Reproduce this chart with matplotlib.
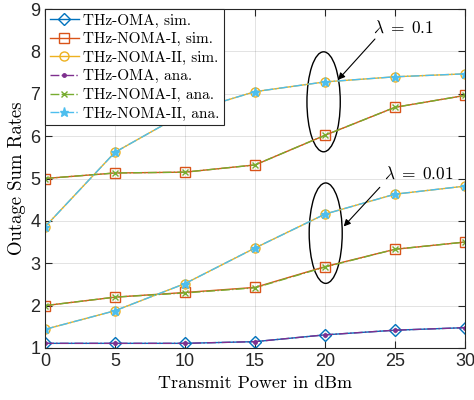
import numpy as np
import matplotlib.pyplot as plt
from matplotlib.patches import Ellipse

plt.rcParams['mathtext.fontset'] = 'cm'
plt.rcParams['font.family'] = ['Liberation Sans', 'DejaVu Sans']

# transmit power (dBm)
power = [0, 5, 10, 15, 20, 25, 30]

# lambda = 0.1
noma1_hi = [5.00, 5.13, 5.15, 5.32, 6.02, 6.68, 6.96]
noma2_hi = [3.86, 5.62, 6.55, 7.05, 7.28, 7.40, 7.47]
# lambda = 0.01
oma = [1.11, 1.11, 1.11, 1.15, 1.31, 1.42, 1.48]
noma1_lo = [2.00, 2.20, 2.31, 2.43, 2.92, 3.33, 3.50]
noma2_lo = [1.44, 1.88, 2.52, 3.36, 4.16, 4.63, 4.82]

# analytical curves sit on top of the simulated ones
oma_ana = [1.11, 1.11, 1.11, 1.15, 1.31, 1.42, 1.48]
noma1_hi_ana = [5.00, 5.13, 5.15, 5.32, 6.02, 6.68, 6.96]
noma2_hi_ana = [3.86, 5.62, 6.55, 7.05, 7.28, 7.40, 7.47]
noma1_lo_ana = [2.00, 2.20, 2.30, 2.42, 2.91, 3.33, 3.50]
noma2_lo_ana = [1.44, 1.88, 2.52, 3.36, 4.16, 4.63, 4.82]

c_blue = (0, 0.447, 0.741)
c_red = (0.85, 0.325, 0.098)
c_yel = (0.929, 0.694, 0.125)
c_pur = (0.494, 0.184, 0.556)
c_grn = (0.466, 0.674, 0.188)
c_cyan = (0.301, 0.745, 0.933)

fig = plt.figure(figsize=(4.74, 4.0), dpi=100)
ax = fig.add_axes([0.095, 0.13, 0.886, 0.8475])

ms = 6.5
# simulations
ax.plot(power, oma, '-', color=c_blue, marker='D', ms=6, mfc='none', lw=1, label='THz-OMA, sim.')
ax.plot(power, noma1_hi, '-', color=c_red, marker='s', ms=ms, mfc='none', lw=1, label='THz-NOMA-I, sim.')
ax.plot(power, noma2_hi, '-', color=c_yel, marker='o', ms=ms, mfc='none', lw=1, label='THz-NOMA-II, sim.')
ax.plot(power, noma1_lo, '-', color=c_red, marker='s', ms=ms, mfc='none', lw=1)
ax.plot(power, noma2_lo, '-', color=c_yel, marker='o', ms=ms, mfc='none', lw=1)
# analysis
ax.plot(power, oma_ana, '-.', color=c_pur, marker='.', ms=5, lw=1, label='THz-OMA, ana.')
ax.plot(power, noma1_hi_ana, '-.', color=c_grn, marker='x', ms=4.5, lw=1, label='THz-NOMA-I, ana.')
ax.plot(power, noma2_hi_ana, '-.', color=c_cyan, marker='*', ms=6.5, lw=1, label='THz-NOMA-II, ana.')
ax.plot(power, noma1_lo_ana, '-.', color=c_grn, marker='x', ms=4.5, lw=1)
ax.plot(power, noma2_lo_ana, '-.', color=c_cyan, marker='*', ms=6.5, lw=1)

# ellipses + labels
ax.add_patch(Ellipse((19.9, 6.81), 2.38, 2.36, fill=False, ec='k', lw=1))
ax.add_patch(Ellipse((20.05, 3.71), 2.36, 2.37, fill=False, ec='k', lw=1))
ax.annotate('', xy=(20.8, 7.28), xytext=(23.7, 8.34),
            arrowprops=dict(arrowstyle='-|>', color='k', lw=0.8, mutation_scale=10))
ax.annotate('', xy=(21.2, 3.82), xytext=(24.05, 4.84),
            arrowprops=dict(arrowstyle='-|>', color='k', lw=0.8, mutation_scale=10))
ax.text(23.4, 8.57, r'$\lambda\;=\;0.1$', fontsize=12.5, va='center', ha='left')
ax.text(24.2, 5.12, r'$\lambda\;=\;0.01$', fontsize=12.5, va='center', ha='left')

ax.set_xlim(0, 30)
ax.set_ylim(1, 9)
ax.set_xticks(power)
ax.set_yticks(range(1, 10))
ax.tick_params(direction='in', labelsize=13, top=True, right=True, length=5, colors='#262626')
ax.grid(True, color='#262626', alpha=0.15, lw=0.6)
for s in ax.spines.values():
    s.set_color('#262626')
    s.set_linewidth(0.8)

ax.set_xlabel('Transmit Power in dBm', family='cmr10', fontsize=13, labelpad=4)
ax.set_ylabel('Outage Sum Rates', family='cmr10', fontsize=13.5, labelpad=3)

leg = ax.legend(loc='upper left', prop={'family': 'cmr10', 'size': 11}, fancybox=False,
                edgecolor='#262626', framealpha=1, borderaxespad=0, handlelength=1.9,
                handletextpad=0.3, labelspacing=0.3, borderpad=0.3)
leg.get_frame().set_linewidth(0.8)

fig.savefig('out.png', dpi=100)
